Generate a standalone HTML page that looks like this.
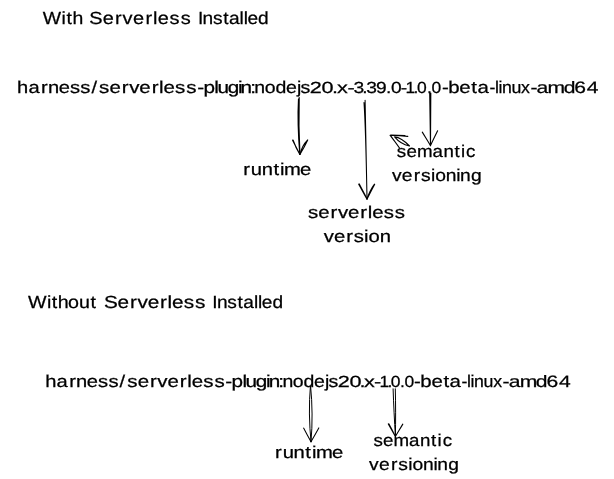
<!DOCTYPE html>
<html>
<head>
<meta charset="utf-8">
<title>Serverless plugin image tags</title>
<style>
html,body{margin:0;padding:0;background:#fff;}
body{width:614px;height:479px;overflow:hidden;}
svg{display:block;will-change:transform;filter:grayscale(1);}
text{font-family:"Liberation Sans",sans-serif;fill:#000;stroke:#000;stroke-width:0.25px;white-space:pre;text-rendering:geometricPrecision;}
.a path{fill:none;stroke:#000;stroke-linecap:round;stroke-linejoin:round;}
</style>
</head>
<body>
<svg width="614" height="479" viewBox="0 0 614 479">
<rect width="614" height="479" fill="#fff"/>
<text y="24" font-size="17.5"><tspan x="42.8 61.5 66.4 72.6" textLength="38.9" lengthAdjust="spacingAndGlyphs">With</tspan> <tspan x="89.3 102.7 115.1 122.6 133.0 145.4 153.0 157.8 169.4 180.8" textLength="94.3" lengthAdjust="spacingAndGlyphs">Serverless</tspan> <tspan x="198.0 202.6 213.0 223.3 228.9 239.6 243.7 247.5 258.1" textLength="71.2" lengthAdjust="spacingAndGlyphs">Installed</tspan></text>
<text y="92.8" font-size="17"><tspan x="17.1 28.4 41.1 48.0 58.7 69.9 80.3 91.5" textLength="77.4" lengthAdjust="spacingAndGlyphs">harness/</tspan><tspan x="99.1 109.6 121.8 129.2 139.3 151.7 159.1 163.6 175.1 186.3" textLength="93.3" lengthAdjust="spacingAndGlyphs">serverless</tspan><tspan x="197.2 203.4 214.3 217.5 227.7 237.9 240.6 250.2" textLength="68.1" lengthAdjust="spacingAndGlyphs">-plugin:</tspan><tspan x="254.3 264.7 275.5 285.9 297.0 300.4" textLength="57.5" lengthAdjust="spacingAndGlyphs">nodejs</tspan><tspan x="309.7 321.4 332.1 337.1 347.5" textLength="48.1" lengthAdjust="spacingAndGlyphs" font-size="16">20.x-</tspan><tspan x="353.6 362.3 366.2 376.1 386.0 391.1 400.8" textLength="59.8" lengthAdjust="spacingAndGlyphs" font-size="16">3.39.0-</tspan><tspan x="405.6 413.5 417.1 426.9 431.6" textLength="38.9" lengthAdjust="spacingAndGlyphs" font-size="16">1.0.0</tspan><tspan x="441.9 448.2 459.3 471.3 477.4" textLength="46.7" lengthAdjust="spacingAndGlyphs">-beta</tspan><tspan x="489.4 495.0 498.4 501.9 511.4 521.1" textLength="42.4" lengthAdjust="spacingAndGlyphs">-linux</tspan><tspan x="530.5 536.6 547.6 563.7 574.3 586.8" textLength="71.6" lengthAdjust="spacingAndGlyphs" font-size="16.5">-amd64</tspan></text>
<text y="174.8" font-size="17"><tspan x="243.2 250.8 261.7 273.4 280.0 284.0 300.1" textLength="67.5" lengthAdjust="spacingAndGlyphs">runtime</tspan></text>
<text y="218.1" font-size="17"><tspan x="307.9 318.3 330.6 337.9 348.0 360.3 367.7 372.2 383.7 394.8" textLength="93.0" lengthAdjust="spacingAndGlyphs">serverless</tspan></text>
<text y="241.5" font-size="17"><tspan x="323.7 333.9 346.2 353.7 364.0 368.4 379.7" textLength="65.4" lengthAdjust="spacingAndGlyphs">version</tspan></text>
<text y="156.7" font-size="17"><tspan x="396.8 406.5 416.9 432.5 443.4 454.4 460.9 466.1" textLength="75.0" lengthAdjust="spacingAndGlyphs">semantic</tspan></text>
<text y="181" font-size="17"><tspan x="391.9 401.8 413.8 421.0 431.0 435.2 445.7 456.2 460.0 471.1" textLength="87.9" lengthAdjust="spacingAndGlyphs">versioning</tspan></text>
<text y="307.6" font-size="17.5"><tspan x="28.1 47.0 51.7 57.7 68.0 78.9 90.6" textLength="66.7" lengthAdjust="spacingAndGlyphs">Without</tspan> <tspan x="103.9 117.6 130.0 137.4 147.7 160.1 167.6 172.1 183.7 195.0" textLength="98.0" lengthAdjust="spacingAndGlyphs">Serverless</tspan> <tspan x="212.3 216.9 227.3 237.6 243.2 253.9 258.0 261.8 272.4" textLength="71.2" lengthAdjust="spacingAndGlyphs">Installed</tspan></text>
<text y="386.7" font-size="17"><tspan x="45.2 56.5 69.2 76.1 86.8 98.0 108.4 119.6" textLength="77.4" lengthAdjust="spacingAndGlyphs">harness/</tspan><tspan x="127.2 137.7 149.9 157.3 167.4 179.8 187.2 191.7 203.2 214.4" textLength="93.3" lengthAdjust="spacingAndGlyphs">serverless</tspan><tspan x="225.3 231.5 242.4 245.6 255.8 266.0 268.7 278.3" textLength="68.1" lengthAdjust="spacingAndGlyphs">-plugin:</tspan><tspan x="282.4 292.8 303.6 314.0 325.1 328.5" textLength="57.5" lengthAdjust="spacingAndGlyphs">nodejs</tspan><tspan x="337.8 349.5 359.5 363.9 374.1" textLength="48.1" lengthAdjust="spacingAndGlyphs" font-size="16">20.x-</tspan><tspan x="379.6 387.5 390.7 399.9 404.6" textLength="38.9" lengthAdjust="spacingAndGlyphs" font-size="16">1.0.0</tspan><tspan x="414.0 420.3 431.4 443.4 449.5" textLength="46.7" lengthAdjust="spacingAndGlyphs">-beta</tspan><tspan x="461.5 467.1 470.5 474.0 483.5 493.2" textLength="42.4" lengthAdjust="spacingAndGlyphs">-linux</tspan><tspan x="502.6 508.7 519.7 535.8 546.4 558.9" textLength="71.6" lengthAdjust="spacingAndGlyphs" font-size="16.5">-amd64</tspan></text>
<text y="457.5" font-size="17"><tspan x="275.1 282.7 293.6 305.3 311.9 315.9 332.0" textLength="67.5" lengthAdjust="spacingAndGlyphs">runtime</tspan></text>
<text y="445.5" font-size="17"><tspan x="373.4 383.1 393.5 409.1 420.0 431.0 437.5 442.7" textLength="75.0" lengthAdjust="spacingAndGlyphs">semantic</tspan></text>
<text y="469.7" font-size="17"><tspan x="369.1 379.0 391.0 398.2 408.2 412.4 422.9 433.4 437.2 448.3" textLength="87.9" lengthAdjust="spacingAndGlyphs">versioning</tspan></text>
<g class="a">
<!-- arrow 1 : runtime -->
<path stroke-width="1.15" d="M299.2 97.6 C298.7 116 298.9 136 299.9 154.4 M298.5 99 C297.8 112 298.1 134 299.8 154.5"/>
<path stroke-width="1.15" d="M292.6 140.2 C295.2 145.2 297.6 150 299.9 154.5 M293 140 C295 145.6 297.2 150 299.9 154.5"/>
<path stroke-width="1.15" d="M307.7 140 C305.4 145 302.6 150 299.9 154.5 M307.5 140.2 C303.4 144.2 301.2 149.4 299.9 154.5"/>
<!-- arrow 2 : serverless version -->
<path stroke-width="1.05" d="M365.1 100.2 C365.9 133 366.6 166 367 199 M364 102.5 C365.2 120 366.3 160 367 199"/>
<path stroke-width="1.3" d="M358.8 184.2 C361.4 189 364.2 194.2 367 199 M359.2 184 C362 189.4 364.4 194 367 199"/>
<path stroke-width="1.3" d="M374.6 184.2 C372 189 369.6 194 367 199 M374.2 184.6 C371 189 368.8 194 367 199"/>
<!-- arrow 3 : semantic versioning -->
<path stroke-width="1.1" d="M429.7 92.8 C429.8 104 430 122 430.5 145.6 M430.8 93 C430.9 104 430.8 122 430.5 145.6"/>
<path stroke-width="1.1" d="M422.3 132.1 C425 136.6 427.8 141 430.5 145.6"/>
<path stroke-width="1.1" d="M437.6 130.7 C435.2 135.8 432.8 140.6 430.5 145.6"/>
<!-- small stray arrow -->
<path stroke-width="1.1" d="M394.6 136.9 C399 137.4 404.6 141 409.5 146 M394.6 136.9 C397.6 140.6 403 144.6 409.5 146"/>
<path stroke-width="1.2" d="M407.8 136.3 C402 135.6 396 135.2 390.3 135.3 M405 135.6 L391 135.2"/>
<path stroke-width="1.2" d="M399.5 148 C396.4 143.6 393.2 139.4 390.3 135.3"/>
<!-- arrow 4 : runtime (bottom) -->
<path stroke-width="1.0" d="M310.4 386.1 C308.8 404 309.2 424 311 441.7 M310.6 386.1 C312.4 404 312.6 424 311 441.7"/>
<path stroke-width="1.05" d="M303.6 428.1 C306 432.6 308.6 437.2 311 441.7"/>
<path stroke-width="1.05" d="M318.8 427.9 C316.2 432.6 313.6 437.2 311 441.7"/>
<!-- arrow 5 : semantic versioning (bottom) -->
<path stroke-width="1.0" d="M393.1 388.8 C393.6 404 394.4 420 395.4 436.5 M395.3 388.8 C395.7 404 395.7 420 395.4 436.5"/>
<path stroke-width="1.1" d="M388.3 424.1 C390.6 428.2 393 432.4 395.4 436.5 M388.8 423.8 C391.4 428.4 393.4 432.4 395.4 436.5"/>
<path stroke-width="1.1" d="M402.8 424.1 C400.4 428.2 397.8 432.4 395.4 436.5"/>
</g>

</svg>
</body>
</html>
